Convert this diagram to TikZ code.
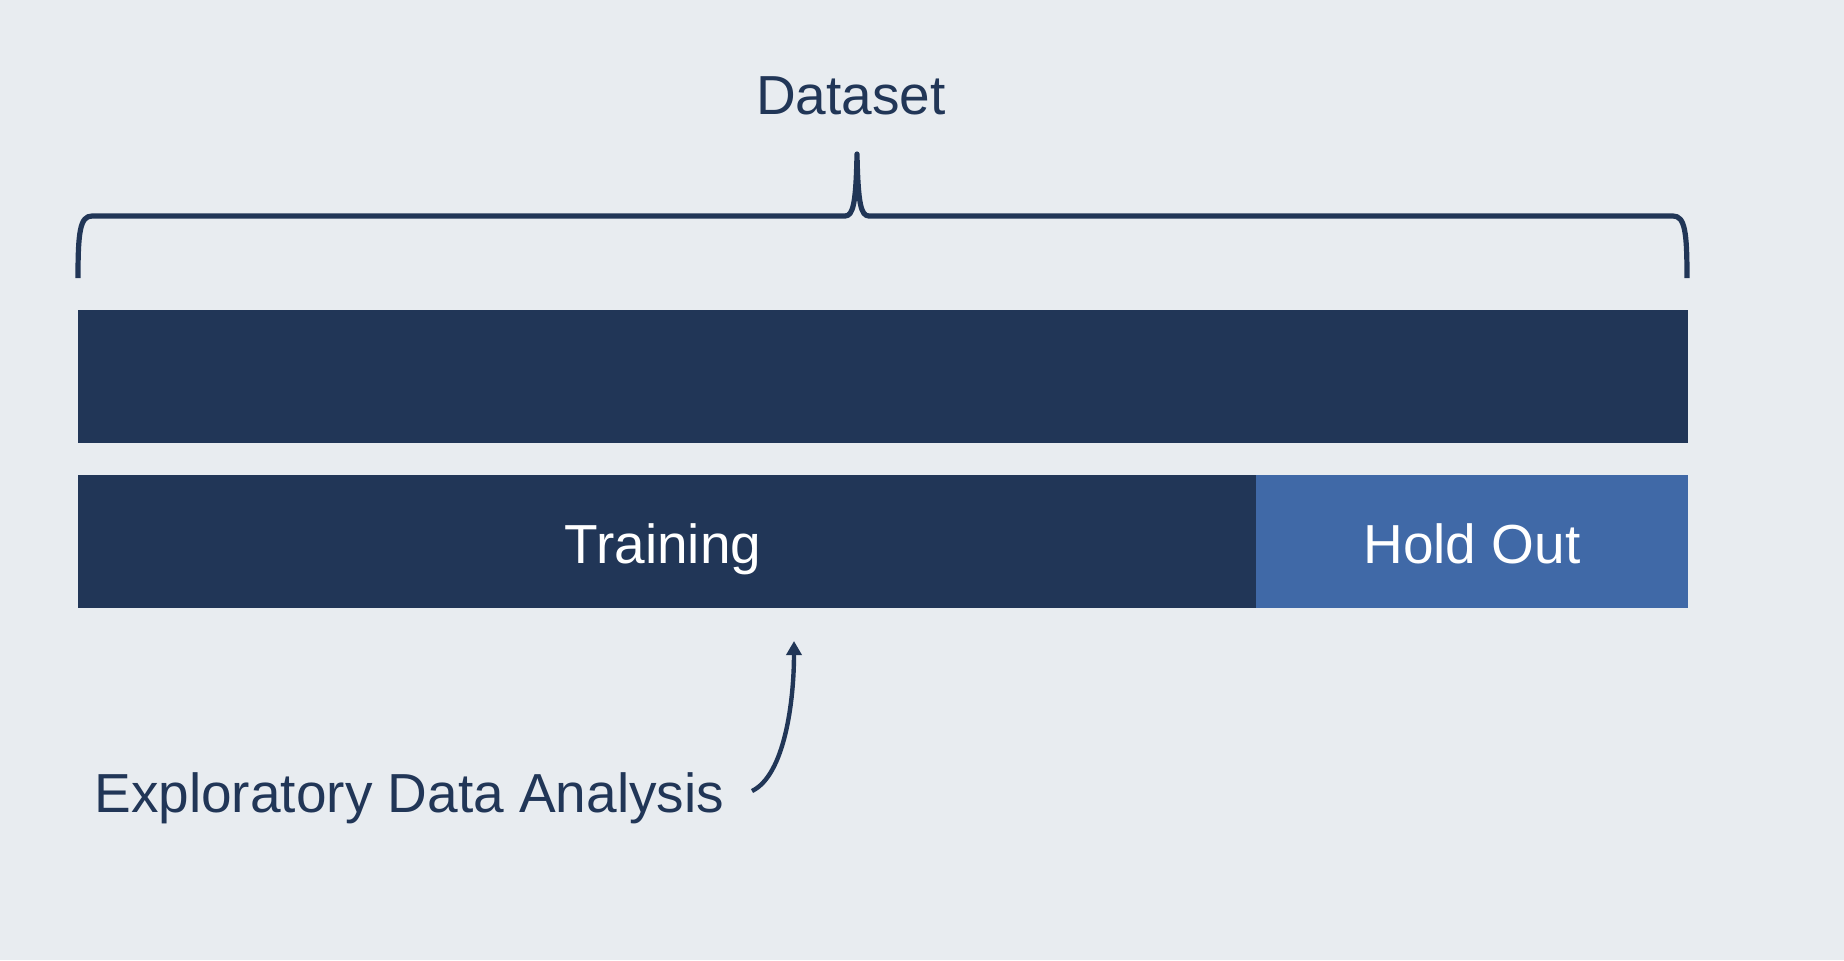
\documentclass[tikz,border=0pt]{standalone}
\usepackage{fontspec}
\setmainfont{Liberation Sans}
\usetikzlibrary{arrows.meta}
\definecolor{navy}{RGB}{33,54,87}
\definecolor{holdblue}{RGB}{64,105,167}
\definecolor{bg}{RGB}{232,236,240}
\tikzset{
  bar/.style={fill=navy, draw=none, inner sep=0pt, outer sep=0pt},
  holdbar/.style={fill=holdblue, draw=none, inner sep=0pt, outer sep=0pt},
  bartext/.style={text=white, font=\fontsize{27.5}{30}\selectfont},
  labeltext/.style={text=navy, font=\fontsize{27.5}{30}\selectfont, inner sep=0pt},
  bracestyle/.style={draw=navy, line width=2.6pt, line cap=butt, line join=round},
  arrowstyle/.style={draw=navy, line width=2.2pt, -{Triangle[length=7pt,width=7.5pt]}}
}
\begin{document}
\begin{tikzpicture}[x=0.5pt,y=-0.5pt]
\fill[bg] (0,0) rectangle (1844,960);
\useasboundingbox (0,0) rectangle (1844,960);
% bars
\node[bar, minimum width=805pt, minimum height=66.5pt] (full) at (883,376.5) {};
\node[bar, minimum width=589pt, minimum height=66.25pt] (train) at (667,541.4) {};
\node[holdbar, minimum width=216pt, minimum height=66.25pt] (hold) at (1472,541.4) {};
\node[bartext, anchor=base] (trainlbl) at (663,563) {Training};
\node[bartext, anchor=base] (holdlbl) at (1472,563) {Hold Out};
% dataset label and brace
\node[labeltext, anchor=base] (dataset) at (851,114) {Dataset};
\coordinate (bl) at (78,278);
\coordinate (br) at (1687,278);
\coordinate (tip) at (857,154);
\draw[bracestyle] (bl) .. controls (78,232) and (80,216) .. (92,216)
  -- (845,216) .. controls (853,216) and (856,204) .. (tip)
  .. controls (858,204) and (861,216) .. (869,216)
  -- (1673,216) .. controls (1685,216) and (1687,232) .. (br);
% EDA label and arrow
\node[labeltext, anchor=base west] (eda) at (94,812) {Exploratory Data Analysis};
\coordinate (astart) at (752,791);
\coordinate (aend) at (794,641);
\draw[arrowstyle] (astart) .. controls (785,775) and (794,700) .. (aend);
\end{tikzpicture}
\end{document}
